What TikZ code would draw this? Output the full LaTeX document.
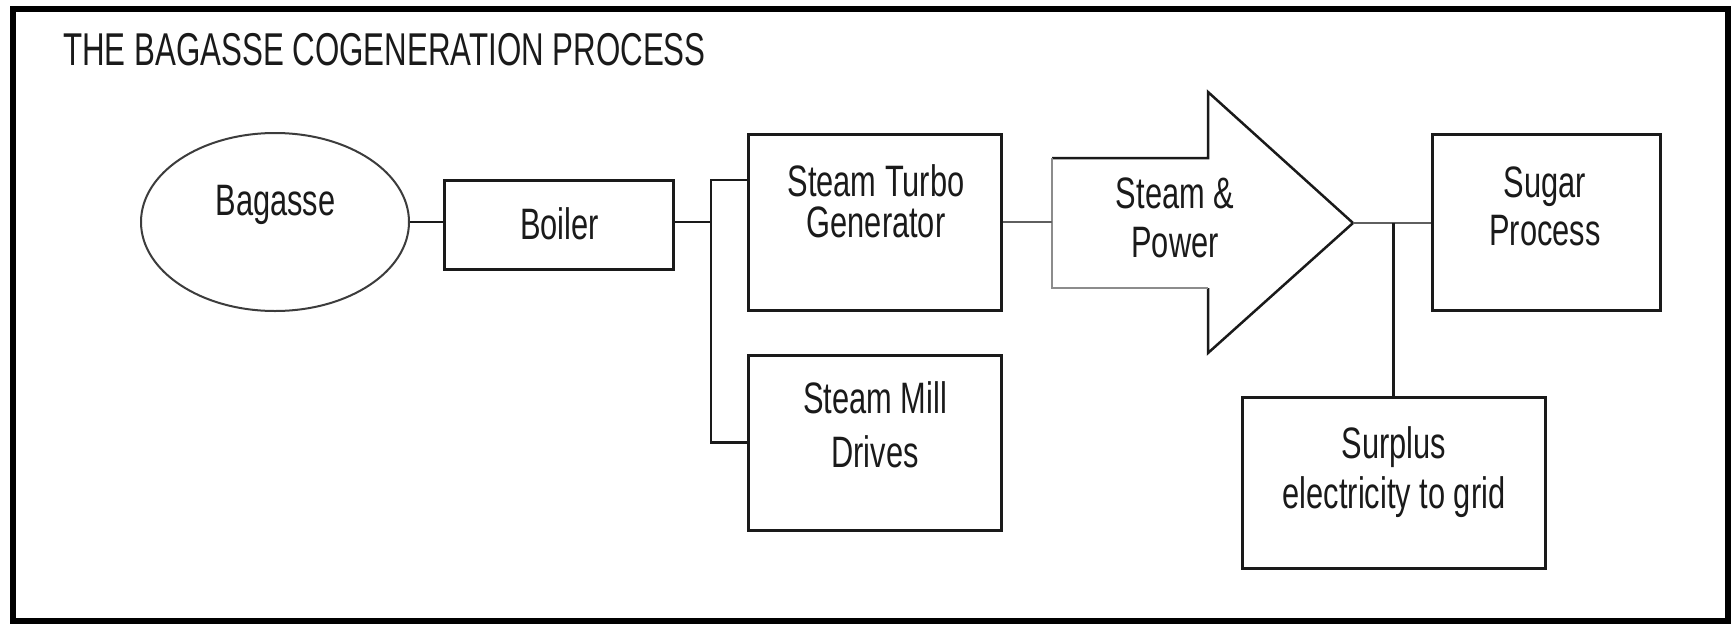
\documentclass[tikz,border=0pt]{standalone}
\usepackage{fontspec}
\usetikzlibrary{shapes.geometric,calc}
\newfontfamily\bodyfont[FakeStretch=0.70]{Liberation Sans}
\newfontfamily\titlefont[FakeStretch=0.68]{Liberation Sans}
\definecolor{inkc}{HTML}{1A1A1A}
\definecolor{shaftgray}{HTML}{8C8C8C}
\begin{document}
\begin{tikzpicture}[x=1pt,y=-1pt,
  boxnode/.style={draw=inkc,line width=3pt,rectangle,inner sep=0pt,fill=white},
  ellnode/.style={draw=inkc!85,line width=2pt,ellipse,inner sep=0pt,fill=white},
  txt/.style={inner sep=0pt,anchor=base,align=center,text=inkc,font=\bodyfont\fontsize{44}{#1}\selectfont},
  txt/.default=48,
  conn/.style={draw=inkc,line width=2.5pt},
  gconn/.style={draw=inkc!70,line width=2.5pt}]
\useasboundingbox (0,0) rectangle (1731,624);
\fill[white] (0,0) rectangle (1731,624);
\draw[line width=6pt,black] (13,9) rectangle (1728,621);
\node[inner sep=0pt,anchor=base west,text=inkc,font=\titlefont\fontsize{46}{46}\selectfont] (title) at (63,65) {THE BAGASSE COGENERATION PROCESS};
% shapes
\node[ellnode,minimum width=268pt,minimum height=178pt] (bag) at (275,222) {};
\node[boxnode,minimum width=229pt,minimum height=89pt] (boiler) at (558.5,224.5) {};
\node[boxnode,minimum width=253pt,minimum height=176pt] (stg) at (874.5,222) {};
\node[boxnode,minimum width=253pt,minimum height=175pt] (smd) at (874.5,442.5) {};
\node[boxnode,minimum width=228pt,minimum height=176pt] (sugar) at (1546,222) {};
\node[boxnode,minimum width=303pt,minimum height=171pt] (surplus) at (1393.5,482.5) {};
% block arrow
\coordinate (arrL) at (1052,222);
\coordinate (arrT) at (1353,223);
\fill[white] (1052,158) -- (1208,158) -- (1208,92) -- (arrT) -- (1208,353) -- (1208,288) -- (1052,288) -- cycle;
\draw[line width=2.5pt,inkc,line join=miter] (1052,158) -- (1208,158) -- (1208,92) -- (arrT) -- (1208,353) -- (1208,288);
\draw[line width=2.5pt,shaftgray] (1208,288) -- (1052,288) -- (1052,158);
% texts (anchor base = baseline of the last line)
\node[txt] (tbag) at (275.5,215) {Bagasse};
\node[txt] (tboiler) at (559.5,239) {Boiler};
\node[txt=41] (tstg) at (876,237) {Steam Turbo\\Generator};
\node[txt=54] (tsmd) at (875,467) {Steam Mill\\Drives};
\node[txt=49] (tarr) at (1175,257) {Steam \&\\Power};
\node[txt=48] (tsug) at (1545,245) {Sugar\\Process};
\node[txt=50] (tsur) at (1394,508) {Surplus\\electricity to grid};
% connectors
\coordinate (j1) at (711,222);
\coordinate (jt) at (711,180);
\coordinate (jb) at (711,442.5);
\coordinate (j2) at (1393.5,223);
\draw[conn] (bag.east) -- (bag.east -| boiler.west);
\draw[conn] (boiler.east |- j1) -- (j1);
\draw[conn] (jt -| stg.west) -- (jt) -- (jb) -- (smd.west);
\draw[gconn] (stg.east) -- (arrL);
\draw[gconn] (arrT) -- (arrT -| sugar.west);
\draw[conn] (j2) -- (surplus.north);
\end{tikzpicture}
\end{document}
